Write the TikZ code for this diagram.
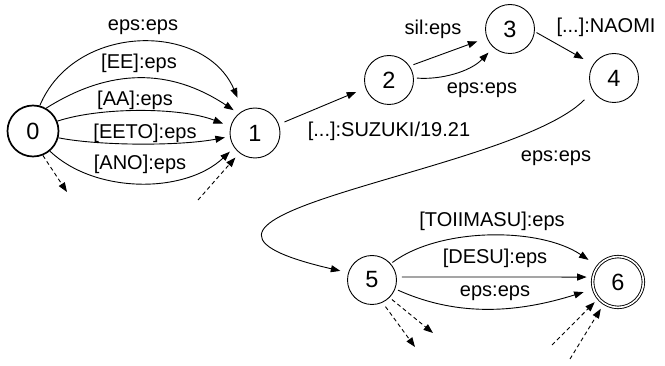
\documentclass[tikz,border=0pt]{standalone}
\usepackage{fontspec}
\setmainfont{Liberation Sans}
\usetikzlibrary{arrows.meta}
\tikzset{
  fsmstate/.style={circle, draw, line width=0.9pt, inner sep=0pt, minimum size=49pt,
    font=\fontsize{23.5}{27}\selectfont},
  startstate/.style={fsmstate, line width=1.7pt, minimum size=51pt},
  finalstate/.style={fsmstate, double, double distance=1.6pt, minimum size=50.8pt},
  trans/.style={line width=0.9pt, -{Triangle[length=9.5pt,width=7pt]}},
  dtrans/.style={trans, dash pattern=on 4pt off 3pt},
  lbl/.style={font=\fontsize{20}{24}\selectfont, inner sep=0pt},
}
\begin{document}
\begin{tikzpicture}[x=1pt, y=-1pt]
\useasboundingbox (0,0) rectangle (665,366);

% states
\node[startstate] (n0) at (33,131) {0};
\node[fsmstate, minimum size=50pt] (n1) at (255,133) {1};
\node[fsmstate] (n2) at (389,80) {2};
\node[fsmstate] (n3) at (510,29) {3};
\node[fsmstate] (n4) at (614,78) {4};
\node[fsmstate] (n5) at (372,280) {5};
\node[finalstate] (n6) at (618,282) {6};

% free ends of the dashed arcs
\coordinate (d0) at (67,192);
\coordinate (d1) at (198,200);
\coordinate (d5a) at (415,347);
\coordinate (d5b) at (433,333);
\coordinate (d6a) at (552,345);
\coordinate (d6b) at (570,359);

% 0 -> 1
\draw[trans, shorten >=14pt] (n0.75) .. controls (75,22) and (205,22) .. (n1.118);
\draw[trans, shorten >=6pt] (n0.60) .. controls (110,68) and (170,68) .. (n1.130);
\draw[trans, shorten >=8pt] (n0.22) .. controls (100,107) and (180,107) .. (n1.165);
\draw[trans, shorten >=5pt] (n0.-15) .. controls (100,146) and (180,146) .. (n1.188);
\draw[trans, shorten >=6pt] (n0.-50) .. controls (95,194) and (185,194) .. (n1.215);
\draw[dtrans] (n0.-68) -- (d0);
\draw[dtrans, shorten >=6pt] (d1) -- (n1.232);

% 1 -> 2 -> 3 -> 4
\draw[trans, shorten <=6pt, shorten >=10pt] (n1.20) -- (n2.199);
\draw[trans, shorten <=4pt, shorten >=10pt] (n2.34) -- (n3.201);
\draw[trans, shorten <=3pt, shorten >=7pt] (n2.5) .. controls (440,80) and (470,72) .. (n3.228);
\draw[trans, shorten <=2pt, shorten >=11pt] (n3.-6) -- (n4.147);

% 4 -> 5
\draw[trans, shorten <=12pt, shorten >=8pt] (n4.212) .. controls (510,175) and (100,215) .. (n5.163);

% 5 -> 6
\draw[trans, shorten <=2pt, shorten >=11pt] (n5.41) .. controls (440,227) and (540,227) .. (n6.142);
\draw[trans, shorten <=5pt, shorten >=6pt] (n5.7) -- (n6.169);
\draw[trans, shorten <=3pt, shorten >=10pt] (n5.-21) .. controls (460,318) and (520,312) .. (n6.196);
\draw[dtrans, shorten <=5pt] (n5.-65) -- (d5a);
\draw[dtrans, shorten <=3pt] (n5.-45) -- (d5b);
\draw[dtrans, shorten >=5pt] (d6a) -- (n6.220);
\draw[dtrans, shorten >=6pt] (d6b) -- (n6.237);

% arc labels
\node[lbl] (t1) at (143,27) {eps:eps};
\node[lbl] (t2) at (139,63) {[EE]:eps};
\node[lbl] (t3) at (135,100) {[AA]:eps};
\node[lbl] (t4) at (145,133) {[EETO]:eps};
\node[lbl] (t5) at (140,164) {[ANO]:eps};
\node[lbl] (t6) at (389,131) {[...]:SUZUKI/19.21};
\node[lbl] (t7) at (433,29) {sil:eps};
\node[lbl] (t8) at (482,90) {eps:eps};
\node[lbl] (t9) at (606,27) {[...]:NAOMI};
\node[lbl] (t10) at (556,158) {eps:eps};
\node[lbl] (t11) at (492,221) {[TOIIMASU]:eps};
\node[lbl] (t12) at (495,258) {[DESU]:eps};
\node[lbl] (t13) at (495,293) {eps:eps};
\end{tikzpicture}
\end{document}
